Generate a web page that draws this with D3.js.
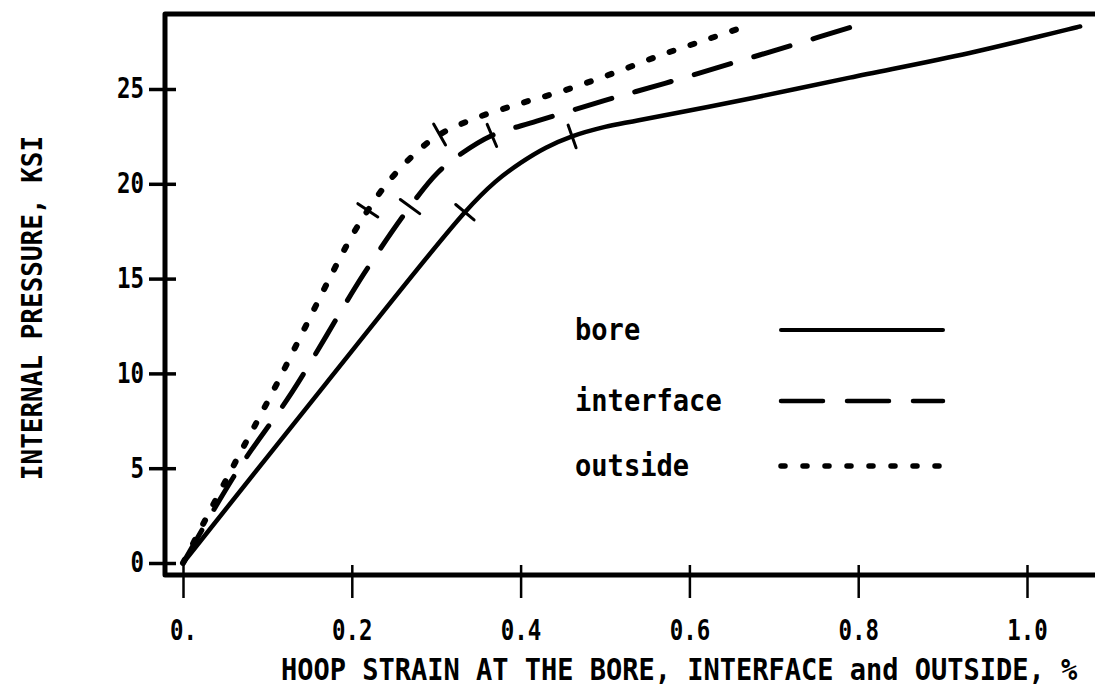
<!DOCTYPE html>
<html>
<head>
<meta charset="utf-8">
<script src="https://cdn.jsdelivr.net/npm/d3@7"></script>
<style>
  body { margin: 0; background: #fff; }
  text { font-family: "DejaVu Sans Mono", monospace; fill: #000; font-weight: bold; }
</style>
</head>
<body>
<svg id="chart" width="1095" height="695"></svg>
<script>
const xTicks = [0, 0.2, 0.4, 0.6, 0.8, 1.0]
const xTickLabels = ["0.", "0.2", "0.4", "0.6", "0.8", "1.0"]
const yTicks = [0, 5, 10, 15, 20, 25]
const seriesNames = ["bore", "interface", "outside"]

// [hoop strain %, internal pressure ksi]
const bore = [[0, 0], [0.17, 9.5], [0.334, 18.5], [0.37, 20.1], [0.40, 21.1], [0.43, 21.9],
  [0.461, 22.5], [0.50, 23.0], [0.54, 23.35], [0.672, 24.5], [0.79, 25.6], [0.932, 26.9], [1.063, 28.3]]
const interfaceData = [[0, 0], [0.065, 4.9], [0.129, 9.0], [0.215, 15.3], [0.269, 18.8], [0.302, 20.6],
  [0.33, 21.6], [0.366, 22.55], [0.419, 23.3], [0.50, 24.4], [0.571, 25.3], [0.65, 26.35], [0.721, 27.3], [0.802, 28.4]]
const outside = [[0, 0], [0.063, 5.4], [0.106, 9.0], [0.197, 17.0], [0.219, 18.6], [0.245, 20.2],
  [0.28, 21.8], [0.304, 22.6], [0.343, 23.4], [0.397, 24.2], [0.45, 24.9], [0.508, 25.8],
  [0.567, 26.8], [0.62, 27.6], [0.666, 28.3]]

// cross marks on the curves
const boreMarks = [[0.334, 18.5], [0.461, 22.5]]
const interfaceMarks = [[0.269, 18.8], [0.366, 22.55]]
const outsideMarks = [[0.219, 18.6], [0.304, 22.6]]

const svg = d3.select('svg#chart')

const x = d3.scaleLinear().domain([0, 1]).range([183, 1027])
const y = d3.scaleLinear().domain([0, 25]).range([563, 89])

// frame
svg.append('path')
  .attr('d', 'M1095,14 L165,14 L165,575 L1095,575')
  .attr('fill', 'none')
  .attr('stroke', '#000')
  .attr('stroke-width', 5)
  .attr('stroke-linejoin', 'round')

// narrow, tall typewriter look
const squeeze = (sel, perChar) => sel
  .attr('textLength', function () { return this.textContent.length * perChar })
  .attr('lengthAdjust', 'spacingAndGlyphs')

const xAxis = svg.append('g')
  .attr('transform', 'translate(0,575)')
  .call(d3.axisBottom(x).tickValues(xTicks).tickFormat((d, i) => xTickLabels[i]).tickSize(23))
xAxis.select('.domain').remove()
xAxis.selectAll('line').attr('y1', -10).attr('stroke-width', 2.5)
xAxis.selectAll('text').attr('y', 65).attr('dy', 0).attr('font-size', 29)
  .style('font-family', '"DejaVu Sans Mono", monospace').style('font-weight', 'bold')
  .call(squeeze, 13.5)

const yAxis = svg.append('g')
  .attr('transform', 'translate(165,0)')
  .call(d3.axisLeft(y).tickValues(yTicks).tickSize(16))
yAxis.select('.domain').remove()
yAxis.selectAll('line').attr('x1', 11).attr('stroke-width', 3.5)
yAxis.selectAll('text').attr('x', -21).attr('font-size', 28)
  .style('font-family', '"DejaVu Sans Mono", monospace').style('font-weight', 'bold')
  .call(squeeze, 13.5)

const line = d3.line()
  .x(d => x(d[0]))
  .y(d => y(d[1]))
  .curve(d3.curveCatmullRom.alpha(0.5))

const styles = {
  bore: { dash: null, width: 4.5 },
  interface: { dash: '38,24', width: 5 },
  outside: { dash: '4,18', width: 6 }
}

const series = [
  { name: 'bore', data: bore, marks: boreMarks },
  { name: 'interface', data: interfaceData, marks: interfaceMarks },
  { name: 'outside', data: outside, marks: outsideMarks }
]

series.forEach(s => {
  svg.append('path')
    .datum(s.data)
    .attr('d', line)
    .attr('fill', 'none')
    .attr('stroke', '#000')
    .attr('stroke-width', styles[s.name].width)
    .attr('stroke-linecap', 'round')
    .attr('stroke-dasharray', styles[s.name].dash)

  // short cross strokes, perpendicular to the curve
  svg.selectAll(null)
    .data(s.marks)
    .enter()
    .append('line')
    .each(function (m) {
      let j = d3.minIndex(s.data, d => Math.abs(d[0] - m[0]))
      const a = s.data[Math.max(0, j - 1)]
      const b = s.data[Math.min(s.data.length - 1, j + 1)]
      const dx = x(b[0]) - x(a[0])
      const dy = y(b[1]) - y(a[1])
      const len = Math.hypot(dx, dy)
      const nx = -dy / len * 12
      const ny = dx / len * 12
      d3.select(this)
        .attr('x1', x(m[0]) - nx).attr('y1', y(m[1]) - ny)
        .attr('x2', x(m[0]) + nx).attr('y2', y(m[1]) + ny)
    })
    .attr('stroke', '#000')
    .attr('stroke-width', 3)
    .attr('stroke-linecap', 'round')
})

// legend
const legendY = [330, 401, 466]
seriesNames.forEach((name, i) => {
  svg.append('text')
    .attr('x', 575)
    .attr('y', legendY[i] + 10)
    .attr('font-size', 30)
    .text(name)
    .call(squeeze, 16.3)
  svg.append('line')
    .attr('x1', 781).attr('x2', 943)
    .attr('y1', legendY[i]).attr('y2', legendY[i])
    .attr('stroke', '#000')
    .attr('stroke-width', styles[name].width - 0.5)
    .attr('stroke-linecap', 'round')
    .attr('stroke-dasharray', name === 'interface' ? '42,24' : styles[name].dash)
})

// axis titles
svg.append('text')
  .attr('transform', 'translate(281,680) scale(1,1.1)')
  .attr('font-size', 27)
  .text('HOOP STRAIN AT THE BORE, INTERFACE and OUTSIDE, %')

svg.append('text')
  .attr('transform', 'translate(42,308) rotate(-90) scale(1,1.1)')
  .attr('text-anchor', 'middle')
  .attr('font-size', 26)
  .text('INTERNAL PRESSURE, KSI')
</script>
</body>
</html>
